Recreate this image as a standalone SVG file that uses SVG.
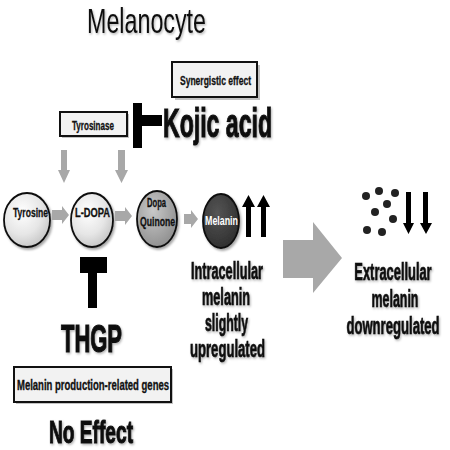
<svg xmlns="http://www.w3.org/2000/svg" width="450" height="450" viewBox="0 0 450 450">
<defs>
<style>
.t{font-family:"Liberation Sans",Arial,sans-serif;fill:#111;}
.b{font-weight:bold;}
.hv{stroke:#111;stroke-width:0.7;}
.hv2{stroke:#111;stroke-width:1.1;}
.box{fill:#f2f2f2;stroke:#111;stroke-width:2;}
.shd{fill:#9a9a9a;opacity:0.6;}
.ga{fill:#a8a8a8;}
.blk{fill:#000;}
.ell{stroke:#111;stroke-width:1.8;}
</style>
<radialGradient id="gLight" cx="0.4" cy="0.35" r="0.7">
<stop offset="0" stop-color="#ffffff"/><stop offset="0.6" stop-color="#e6e6e6"/><stop offset="1" stop-color="#c4c4c4"/>
</radialGradient>
<radialGradient id="gMid" cx="0.4" cy="0.35" r="0.7">
<stop offset="0" stop-color="#c8c8c8"/><stop offset="1" stop-color="#8e8e8e"/>
</radialGradient>
<radialGradient id="gDark" cx="0.4" cy="0.35" r="0.7">
<stop offset="0" stop-color="#555"/><stop offset="1" stop-color="#2e2e2e"/>
</radialGradient>
<filter id="ts" x="-10%" y="-20%" width="130%" height="150%">
<feDropShadow dx="1" dy="1.5" stdDeviation="0.8" flood-color="#000" flood-opacity="0.3"/>
</filter>
<filter id="es" x="-20%" y="-20%" width="150%" height="150%">
<feDropShadow dx="1.5" dy="2" stdDeviation="1.2" flood-color="#000" flood-opacity="0.35"/>
</filter>
</defs>
<rect width="450" height="450" fill="#fff"/>

<g id="title"><text class="t" x="87" y="33" font-size="35" textLength="119" lengthAdjust="spacingAndGlyphs" filter="url(#ts)">Melanocyte</text></g>

<g id="synergistic">
<rect class="shd" x="175" y="65" width="85" height="35"/>
<rect class="box" x="172" y="62" width="85" height="35"/>
<text class="t b hv" x="180" y="85" font-size="12" textLength="71" lengthAdjust="spacingAndGlyphs" style="stroke-width:0.3">Synergistic effect</text>
</g>

<g id="tyrosinase">
<rect class="shd" x="62" y="114" width="67" height="24"/>
<rect class="box" x="60" y="112" width="67" height="24"/>
<text class="t b hv" x="72" y="130" font-size="12" textLength="42" lengthAdjust="spacingAndGlyphs" style="stroke-width:0.3">Tyrosinase</text>
</g>

<g id="kojic">
<rect class="blk" x="133" y="103" width="9" height="45"/>
<rect class="blk" x="141" y="115" width="21" height="11"/>
<text class="t b hv2" x="163" y="137" font-size="41" textLength="109" lengthAdjust="spacingAndGlyphs" filter="url(#ts)">Kojic acid</text>
</g>

<g id="tyrosine">
<ellipse class="ell" cx="27" cy="220" rx="23" ry="27" fill="url(#gLight)" filter="url(#es)"/>
<text class="t b hv" x="13" y="217" font-size="12" textLength="35" lengthAdjust="spacingAndGlyphs" style="stroke-width:0.3">Tyrosine</text>
</g>
<g id="ldopa">
<ellipse class="ell" cx="92" cy="220" rx="21" ry="27" fill="url(#gLight)" filter="url(#es)"/>
<text class="t b hv" x="75" y="217" font-size="12" textLength="35" lengthAdjust="spacingAndGlyphs" style="stroke-width:0.3">L-DOPA</text>
</g>
<g id="dopaquinone">
<ellipse class="ell" cx="157" cy="219" rx="20" ry="28" fill="url(#gMid)" filter="url(#es)"/>
<text class="t b hv" x="147" y="207" font-size="13" textLength="19" lengthAdjust="spacingAndGlyphs" style="stroke-width:0.3">Dopa</text>
<text class="t b hv" x="140" y="226" font-size="13" textLength="35" lengthAdjust="spacingAndGlyphs" style="stroke-width:0.3">Quinone</text>
</g>
<g id="melanin">
<ellipse class="ell" cx="221" cy="221" rx="18" ry="27" fill="url(#gDark)" filter="url(#es)"/>
<text class="t b" x="205" y="225" font-size="12" textLength="33" lengthAdjust="spacingAndGlyphs" style="fill:#fff">Melanin</text>
</g>

<g id="connectors">
<path class="ga" d="M61,150 H67 V170 H70 L64,183 L58,170 H61 Z"/>
<path class="ga" d="M118,150 H125 V170 H128 L121.5,183 L115,170 H118 Z"/>
<path class="ga" d="M52,210 H62 V206 L69,215 L62,224 V220 H52 Z"/>
<path class="ga" d="M115,211 H125 V207 L132,216 L125,225 V221 H115 Z"/>
<path class="ga" d="M184,214 H191 V210 L198,219 L191,228 V224 H184 Z"/>
<path class="ga" d="M283,240 H313 V222 L342,258 L313,293 V278 H283 Z"/>
</g>

<g id="up-arrows">
<path class="blk" d="M246,237 V207 H242 L248.5,195 L255,207 H251 V237 Z"/>
<path class="blk" d="M261,237 V207 H257 L263.5,195 L270,207 H266 V237 Z"/>
</g>

<g id="thgp">
<rect class="blk" x="80" y="257" width="27" height="16"/>
<rect class="blk" x="88" y="272" width="9" height="36"/>
<text class="t b hv2" x="61" y="352" font-size="38" textLength="61" lengthAdjust="spacingAndGlyphs" filter="url(#ts)">THGP</text>
</g>

<g id="intracellular" filter="url(#ts)">
<text class="t b hv" x="191" y="279" font-size="23" textLength="72" lengthAdjust="spacingAndGlyphs">Intracellular</text>
<text class="t b hv" x="202" y="305" font-size="23" textLength="48" lengthAdjust="spacingAndGlyphs">melanin</text>
<text class="t b hv" x="205" y="331" font-size="23" textLength="43" lengthAdjust="spacingAndGlyphs">slightly</text>
<text class="t b hv" x="190" y="357" font-size="23" textLength="75" lengthAdjust="spacingAndGlyphs">upregulated</text>
</g>

<g id="dots">
<circle cx="366" cy="196" r="4" fill="#222"/>
<circle cx="379" cy="191" r="4" fill="#222"/>
<circle cx="395" cy="193" r="4" fill="#222"/>
<circle cx="387" cy="204" r="4" fill="#222"/>
<circle cx="375" cy="212" r="4" fill="#222"/>
<circle cx="393" cy="219" r="4" fill="#222"/>
<circle cx="367" cy="230" r="4" fill="#222"/>
<circle cx="382" cy="232" r="4" fill="#222"/>
</g>
<g id="down-arrows">
<path class="blk" d="M406,192 H411 V223 H414 L408.5,234 L403,223 H406 Z"/>
<path class="blk" d="M423,192 H428 V223 H432 L426,234 L420,223 H423 Z"/>
</g>

<g id="extracellular" filter="url(#ts)">
<text class="t b hv" x="0" y="0" font-size="23" text-anchor="middle" transform="translate(393 280) scale(0.56 1)">Extracellular</text>
<text class="t b hv" x="0" y="0" font-size="23" text-anchor="middle" transform="translate(395 307) scale(0.54 1)">melanin</text>
<text class="t b hv" x="0" y="0" font-size="23" text-anchor="middle" transform="translate(393 334) scale(0.57 1)">downregulated</text>
</g>

<g id="genes">
<rect class="shd" x="16" y="369" width="157" height="35"/>
<rect class="box" x="14" y="367" width="157" height="35"/>
<text class="t b hv" x="17" y="390" font-size="14" textLength="152" lengthAdjust="spacingAndGlyphs" style="stroke-width:0.35">Melanin production-related genes</text>
</g>

<g id="noeffect"><text class="t b hv2" x="49" y="443" font-size="32" textLength="84" lengthAdjust="spacingAndGlyphs" filter="url(#ts)">No Effect</text></g>
</svg>
